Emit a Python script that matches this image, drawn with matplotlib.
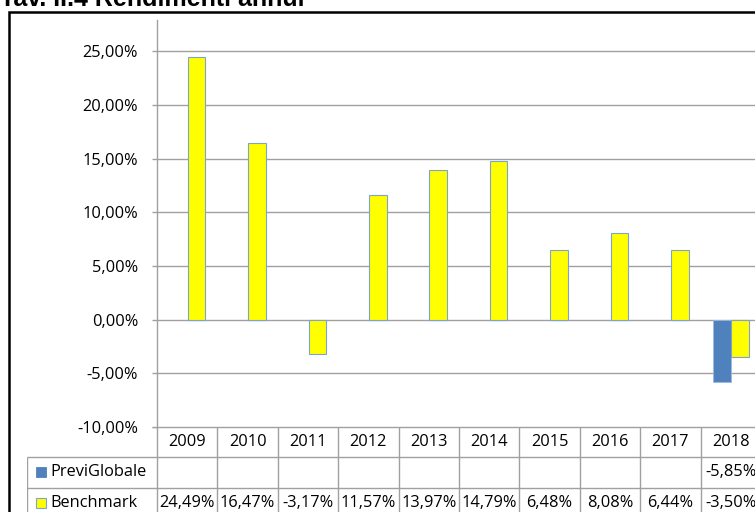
import numpy as np
import matplotlib.pyplot as plt
from matplotlib.patches import Rectangle

years = ['2009', '2010', '2011', '2012', '2013', '2014', '2015', '2016', '2017', '2018']
previglobale = [np.nan] * 9 + [-5.85]
benchmark = [24.49, 16.47, -3.17, 11.57, 13.97, 14.79, 6.48, 8.08, 6.44, -3.50]
yticks = [-10, -5, 0, 5, 10, 15, 20, 25]

plt.rcParams['font.family'] = ['Open Sans', 'DejaVu Sans']
W, H = 755, 512
fs = 11.8
fig = plt.figure(figsize=(W / 100, H / 100), dpi=100)

def fx(px):
    return px / W

def fy(py):
    return 1 - py / H

def pct(v):
    return ('%.2f%%' % v).replace('.', ',')

# main plot area
ax = fig.add_axes([fx(157), fy(427), fx(761) - fx(157), fy(20) - fy(427)])
x = np.arange(len(years))
w = 0.29
ax.bar(x - 0.145, previglobale, w, color='#4f81bd', edgecolor='#9bbbe0', linewidth=0.6, zorder=3)
ax.bar(x + 0.155, benchmark, w, color='#ffff00', edgecolor='#7fa3d0', linewidth=0.8, zorder=3)
ax.set_xlim(-0.5, len(years) - 0.5)
ax.set_ylim(-10, 27.9)
ax.set_yticks(yticks)
ax.yaxis.set_major_formatter(plt.FuncFormatter(lambda v, p: pct(v)))
ax.set_xticks([])
ax.grid(axis='y', color='#a0a0a0', linewidth=1.0, zorder=0)
for s in ['top', 'right', 'bottom']:
    ax.spines[s].set_visible(False)
ax.spines['left'].set_color('#a0a0a0')
ax.spines['left'].set_linewidth(1.0)
ax.tick_params(axis='y', length=3.6, width=1.0, color='#a0a0a0', labelsize=fs, pad=10)

# data table below the plot
lab_left = -0.5 - (157 - 27) / 60.4
tab = fig.add_axes([fx(27), fy(520), fx(761) - fx(27), fy(427) - fy(520)])
tab.set_xlim(lab_left, len(years) - 0.5)
tab.set_ylim(520, 427)
tab.axis('off')
gc = '#a0a0a0'
tab.hlines([457, 488], lab_left, len(years) - 0.5, color=gc, linewidth=1.0)
tab.vlines(np.arange(len(years) + 1) - 0.5, 427, 520, color=gc, linewidth=1.0)
tab.vlines([lab_left], 457, 520, color=gc, linewidth=1.0)
tab.hlines([427], -0.58, len(years) - 0.5, color=gc, linewidth=1.0)
for i, yr in enumerate(years):
    tab.text(i, 442, yr, ha='center', va='center', fontsize=fs)
    if not np.isnan(previglobale[i]):
        tab.text(i, 472, pct(previglobale[i]), ha='center', va='center', fontsize=fs)
    tab.text(i, 503, pct(benchmark[i]), ha='center', va='center', fontsize=fs)

mx = lab_left + 9 / 60.4
tab.add_patch(Rectangle((mx, 467), 10 / 60.4, 10, facecolor='#4f81bd', edgecolor='#4f81bd', linewidth=0.6))
tab.add_patch(Rectangle((mx, 498), 10 / 60.4, 10, facecolor='#ffff00', edgecolor='#7fa3d0', linewidth=0.8))
tab.text(mx + 14 / 60.4, 472, 'PreviGlobale', ha='left', va='center', fontsize=fs)
tab.text(mx + 14 / 60.4, 503, 'Benchmark', ha='left', va='center', fontsize=fs)

# outer frame and cut-off title
fig.add_artist(Rectangle((fx(9), -0.2), 2, fy(12) + 0.2, transform=fig.transFigure,
                         facecolor='none', edgecolor='black', linewidth=1.8))
fig.text(fx(0), fy(6.5), 'Tav. II.4 Rendimenti annui', ha='left', va='baseline',
         fontsize=18, fontweight='bold', family=['Liberation Sans', 'DejaVu Sans'])

fig.savefig('out.png', dpi=100)
